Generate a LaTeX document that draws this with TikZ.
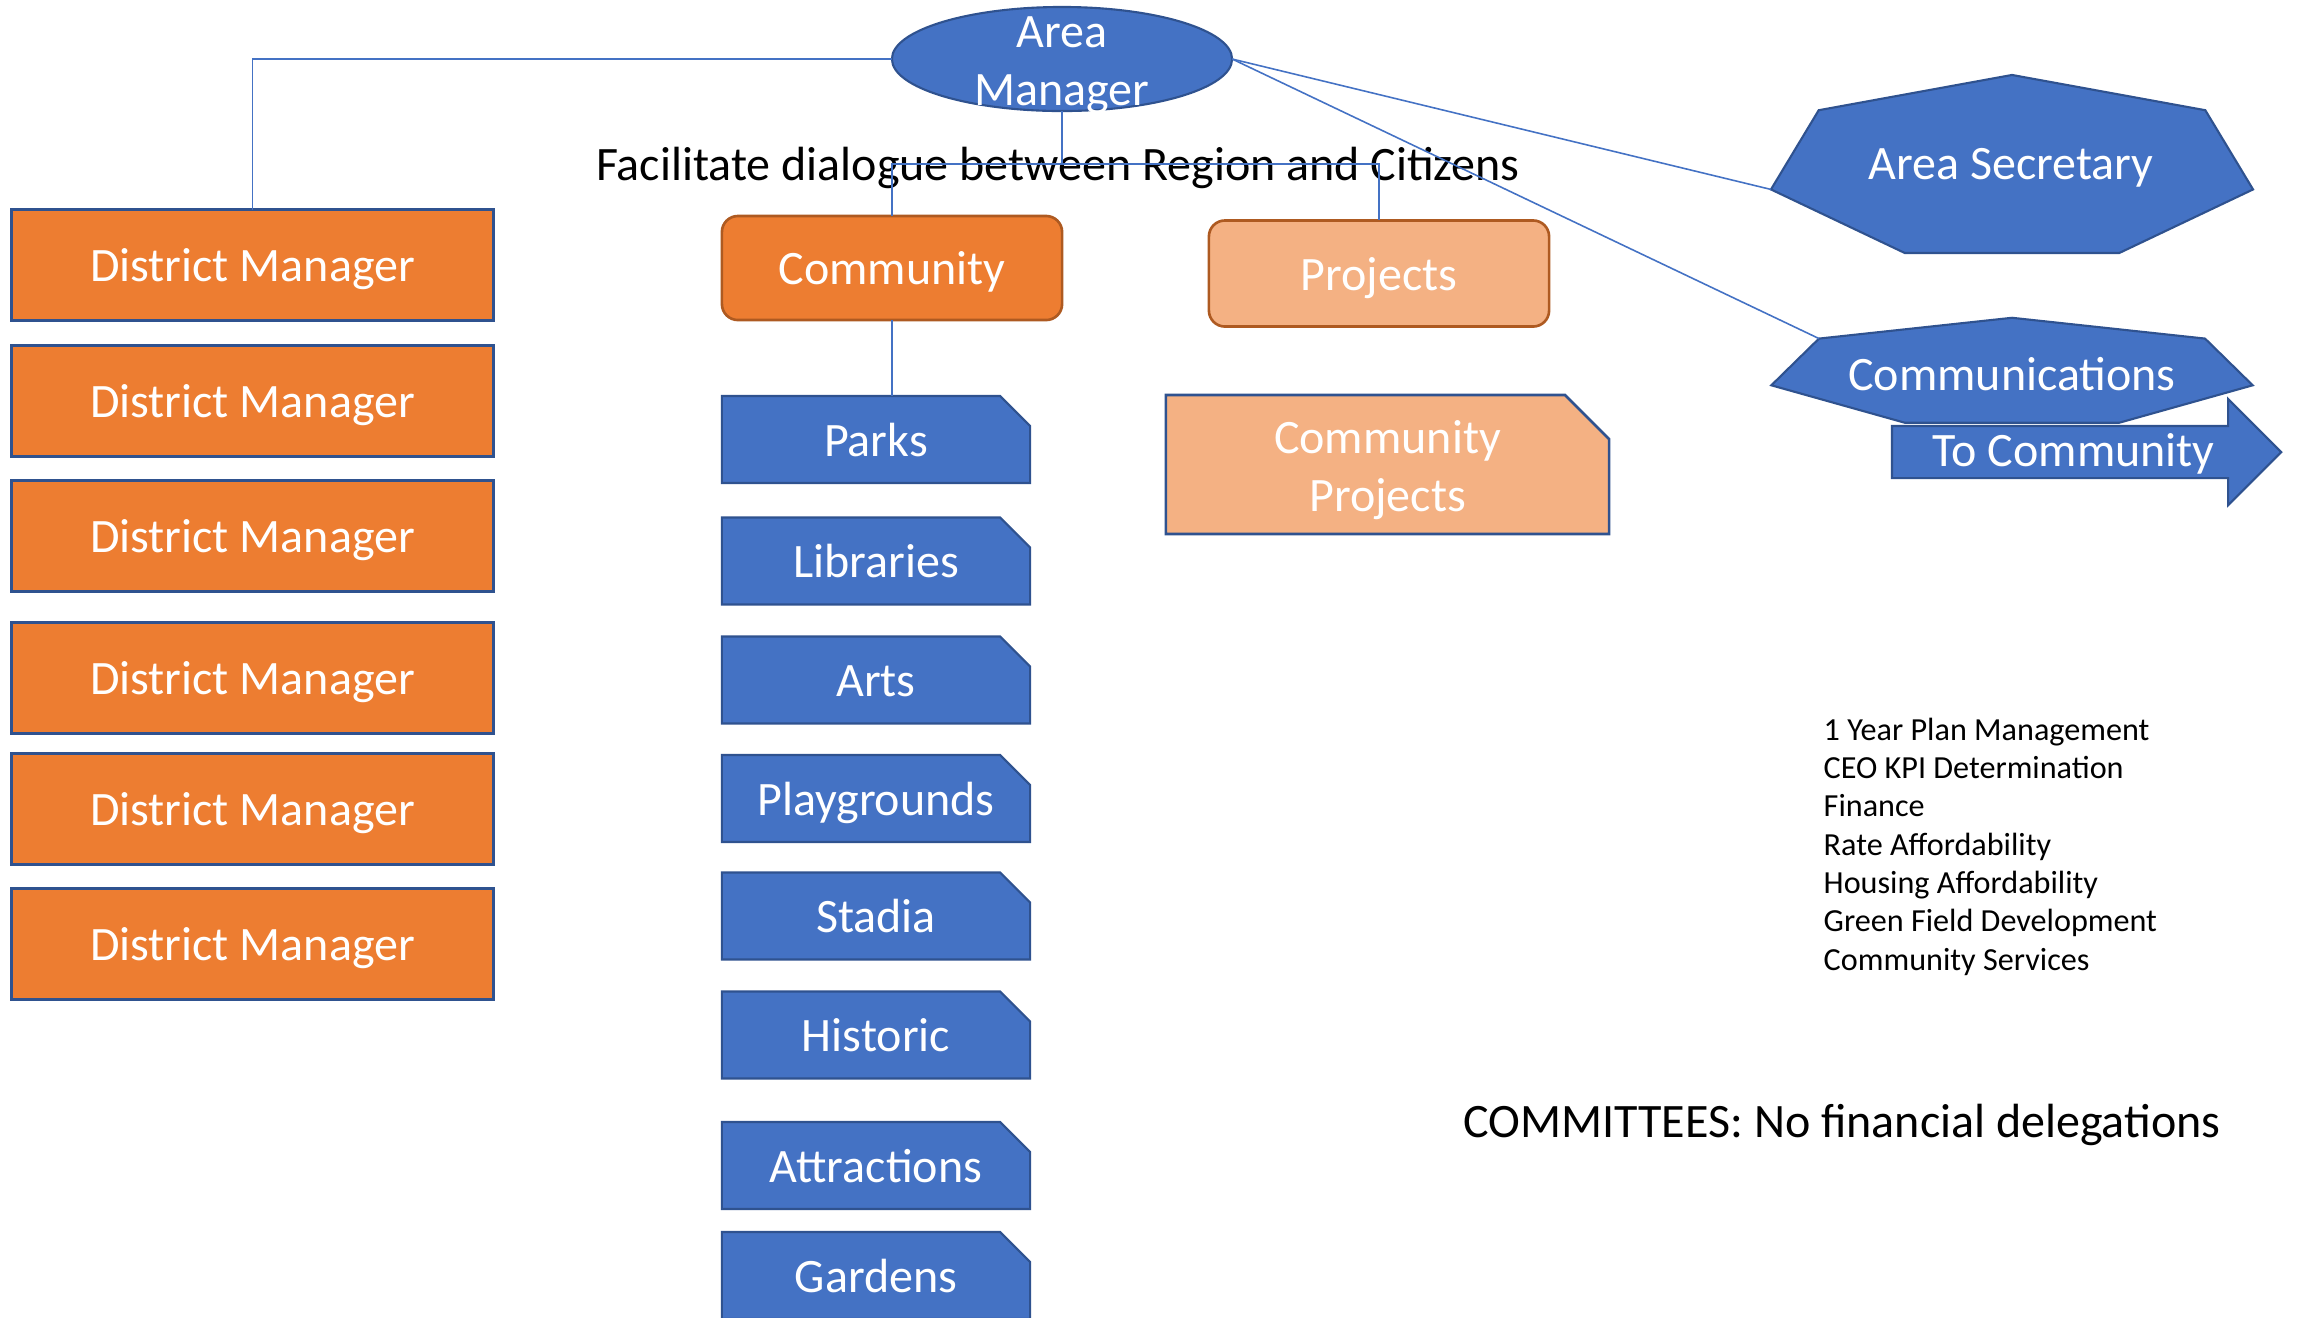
\documentclass[tikz,border=0pt]{standalone}
\usepackage{fontspec}
\setmainfont{Carlito}
\usetikzlibrary{shapes.geometric, shapes.misc, shapes.arrows}
\definecolor{accblue}{HTML}{4472C4}
\definecolor{edgeblue}{HTML}{2F528F}
\definecolor{accorange}{HTML}{ED7D31}
\definecolor{edgeorange}{HTML}{AE5A21}
\definecolor{paleorange}{HTML}{F4B183}

\begin{document}
\begin{tikzpicture}[x=0.01cm, y=-0.01cm,
    bigfont/.style={font=\fontsize{13.65}{16.5}\selectfont},
    smallfont/.style={font=\fontsize{9.15}{10.9}\selectfont},
    conn/.style={draw=accblue, line width=0.45pt},
    boxtext/.style={bigfont, text=white, inner sep=0pt, outer sep=0pt, text height=1.05em, text depth=0.1em},
    district/.style={boxtext, rectangle, fill=accorange, draw=edgeblue, line width=0.85pt, minimum width=4.81cm, minimum height=1.10cm},
    service/.style={boxtext, chamfered rectangle, chamfered rectangle corners=north east, chamfered rectangle xsep=0.15cm, chamfered rectangle ysep=0.15cm, fill=accblue, draw=edgeblue, line width=0.6pt, minimum width=3.08cm, minimum height=0.87cm},
    roundbox/.style={boxtext, rectangle, rounded corners=0.16cm, draw=edgeorange, line width=0.75pt, minimum width=3.40cm},
    heptagon/.style={regular polygon, regular polygon sides=7, fill=accblue, draw=edgeblue, line width=0.6pt, inner sep=0pt, outer sep=0pt, transform shape}]
  %org chart, area manager
    \useasboundingbox (0,0) rectangle (2300,1317);

    \node[ellipse, fill=accblue, draw=edgeblue, line width=0.6pt, minimum width=3.40cm, minimum height=1.04cm, inner sep=0pt, outer sep=0pt] (am) at (1062,59) {};
    \node[bigfont, text=white, align=center, inner sep=0pt] (amlabel) at (1062,65) {Area\\Manager};

    \node[bigfont, anchor=base, inner sep=0pt] (dialogue) at (1058,180) {Facilitate dialogue between Region and Citizens};

    % district managers
    \node[district] (dm1) at (252.5,265) {District Manager};
    \node[district] (dm2) at (252.5,401) {District Manager};
    \node[district] (dm3) at (252.5,536) {District Manager};
    \node[district] (dm4) at (252.5,678) {District Manager};
    \node[district] (dm5) at (252.5,809) {District Manager};
    \node[district] (dm6) at (252.5,944) {District Manager};

    % community
    \node[roundbox, fill=accorange, minimum height=1.04cm] (community) at (892,268) {Community};
    \node[roundbox, fill=paleorange, minimum height=1.06cm] (projects) at (1379,273.5) {Projects};
    \node[boxtext, chamfered rectangle, chamfered rectangle corners=north east, chamfered rectangle xsep=0.22cm, chamfered rectangle ysep=0.22cm, fill=paleorange, draw=edgeblue, line width=0.75pt, minimum width=4.43cm, minimum height=1.35cm, align=center, text height=2.7em, text depth=-0.45em] (cprojects) at (1387.5,464.5) {Community\\Projects};

    \node[service] (parks) at (876,439.5) {Parks};
    \node[service] (libraries) at (876,561) {Libraries};
    \node[service] (arts) at (876,680) {Arts};
    \node[service] (playgrounds) at (876,798.5) {Playgrounds};
    \node[service] (stadia) at (876,916) {Stadia};
    \node[service] (historic) at (876,1035) {Historic};
    \node[service] (attractions) at (876,1165.5) {Attractions};
    \node[service] (gardens) at (876,1275.5) {Gardens};

    % right hand side
    \node[heptagon, minimum size=1.872cm, xscale=2.64] (secretary) at (2012,168.6) {};
    \node[bigfont, text=white, inner sep=0pt] (seclabel) at (2011,168) {Area Secretary};
    \node[heptagon, minimum size=1.104cm, xscale=4.47] (comms) at (2012,373) {};
    \node[bigfont, text=white, inner sep=0pt] (commslabel) at (2012,374) {Communications};
    \node[boxtext, single arrow, single arrow head extend=0.27cm, single arrow tip angle=90, fill=accblue, draw=edgeblue, line width=0.6pt, minimum height=3.89cm, text height=0.39cm, text depth=0.11cm, anchor=tail] (tocommunity) at (1892,452) {To Community};

    \node[smallfont, align=left, anchor=north west, inner sep=0pt] (tasks) at (1823,717) {1 Year Plan Management\\CEO KPI Determination\\Finance\\Rate Affordability\\Housing Affordability\\Green Field Development\\Community Services};
    \node[bigfont, inner sep=0pt] (committees) at (1842,1125) {COMMITTEES: No financial delegations};

    % connectors
    \coordinate (bar) at (1062,164);
    \draw[conn] (am.west) -| (dm1.north);
    \draw[conn] (am.south) -- (bar);
    \draw[conn] (community.north) |- (bar) -| (projects.north);
    \draw[conn] (community.south) -- (community.south |- parks.north);
    \draw[conn] (am.east) -- (secretary.corner 3);
    \draw[conn] (am.east) -- (comms.corner 2);
  \end{tikzpicture}
\end{document}
